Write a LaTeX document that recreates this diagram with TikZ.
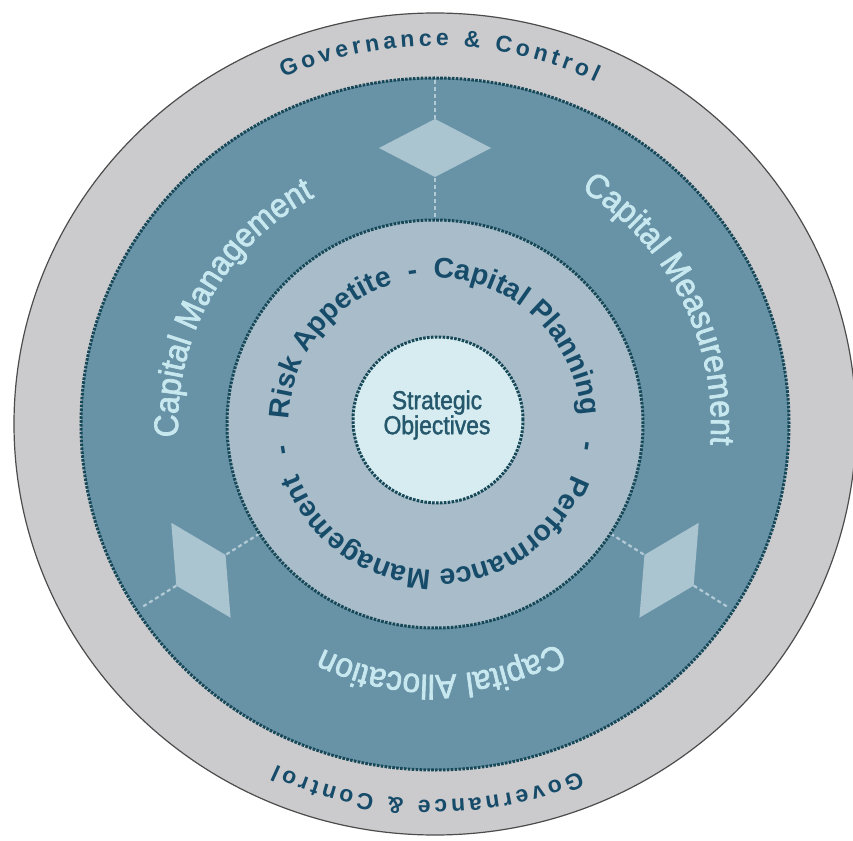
\documentclass[tikz,border=0pt]{standalone}
\usepackage{fontspec}
\setmainfont{Liberation Sans}
\newfontfamily\capfont[FakeStretch=0.93, FakeBold=2]{Liberation Sans}
\newfontfamily\objfont[FakeStretch=0.88, FakeBold=1.5]{Liberation Sans}
\definecolor{outergrey}{RGB}{203,203,206}
\definecolor{ringteal}{RGB}{104,147,167}
\definecolor{innerblue}{RGB}{168,189,201}
\definecolor{corecyan}{RGB}{214,236,240}
\definecolor{dotblue}{RGB}{23,72,88}
\definecolor{textblue}{RGB}{22,75,105}
\definecolor{objblue}{RGB}{37,88,108}
\definecolor{capwhite}{RGB}{200,232,240}
\definecolor{diamondblue}{RGB}{170,196,208}
\definecolor{spokeblue}{RGB}{178,202,213}
\newcommand\govfmt{\color{textblue}\fontsize{23}{26}\selectfont\bfseries}
\newcommand\capfmt{\color{capwhite}\capfont\fontsize{34}{40}\selectfont}
\newcommand\ringfmt{\color{textblue}\fontsize{28.5}{32}\selectfont\bfseries}
% letter widths, measured before the picture
\newdimen\glyphwd
\newcommand\measurearc[3]{% name, format, letters
	\foreach \ch [count=\i] in {#3}{%
		\settowidth\glyphwd{#2\ch}%
		\expandafter\xdef\csname gw-#1-\i\endcsname{\the\glyphwd}%
	}%
}
% letters set one by one round an arc, read clockwise
\newcommand\arctext[6]{% name, format, radius, centre angle, extra spacing, letters
	\gdef\textwd{0}%
	\foreach \ch [count=\i] in {#6}{%
		\pgfmathsetmacro\tmpwd{\textwd+\csname gw-#1-\i\endcsname+#5}%
		\xdef\textwd{\tmpwd}%
	}%
	\pgfmathsetmacro\tmpang{#4+deg((\textwd-#5)/2/#3)}%
	\xdef\curang{\tmpang}%
	\foreach \ch [count=\i] in {#6}{%
		\edef\gwd{\csname gw-#1-\i\endcsname}%
		\pgfmathsetmacro\midang{\curang-deg(\gwd/2/#3)}%
		\node[rotate=\midang-90, anchor=base, inner sep=0pt, outer sep=0pt] (#1-\i) at (\midang:#3) {#2\ch};
		\pgfmathsetmacro\tmpang{\curang-deg((\gwd+#5)/#3)}%
		\xdef\curang{\tmpang}%
	}%
}
\begin{document}
\measurearc{govtop}{\govfmt}{G,o,v,e,r,n,a,n,c,e,~,\&,~,C,o,n,t,r,o,l}
\measurearc{govbot}{\govfmt}{G,o,v,e,r,n,a,n,c,e,~,\&,~,C,o,n,t,r,o,l}
\measurearc{mgmt}{\capfmt}{C,a,p,i,t,a,l,~,M,a,n,a,g,e,m,e,n,t}
\measurearc{meas}{\capfmt}{C,a,p,i,t,a,l,~,M,e,a,s,u,r,e,m,e,n,t}
\measurearc{alloc}{\capfmt}{C,a,p,i,t,a,l,~,A,l,l,o,c,a,t,i,o,n}
\measurearc{risk}{\ringfmt}{R,i,s,k,~,A,p,p,e,t,i,t,e}
\measurearc{dasha}{\ringfmt}{-}
\measurearc{plan}{\ringfmt}{C,a,p,i,t,a,l,~,P,l,a,n,n,i,n,g}
\measurearc{dashb}{\ringfmt}{-}
\measurearc{perf}{\ringfmt}{P,e,r,f,o,r,m,a,n,c,e,~,M,a,n,a,g,e,m,e,n,t}
\measurearc{dashc}{\ringfmt}{-}
\begin{tikzpicture}[x=1pt, y=1pt, line join=round,
    dotted ring/.style={draw=dotblue, line width=3pt, dash pattern=on 2.6pt off 1.3pt},
    spoke/.style={draw=spokeblue, line width=2.2pt, dash pattern=on 4pt off 3pt}]
	\useasboundingbox (-435,-416) rectangle (418,424);
	% rings
	\path[fill=outergrey, draw=black!70, line width=1.2pt] (0,0) ellipse [x radius=421, y radius=411];
	\path[fill=ringteal, dotted ring] (0,0) ellipse [x radius=354, y radius=346];
	\foreach \ang in {90,212,-32}{
		\begin{scope}[rotate=\ang-90]
			\draw[spoke] (0,200) -- (0,345);
			\fill[diamondblue] (0,247) -- (56,276) -- (0,305) -- (-56,276) -- cycle;
		\end{scope}
	}
	\path[fill=innerblue, dotted ring] (0,0) ellipse [x radius=208, y radius=204];
	\path[fill=corecyan, dotted ring] (3,4) ellipse [x radius=85, y radius=83];
	\node[align=center, text=objblue, font=\objfont\fontsize{26}{25}\selectfont] (objectives) at (2,9) {Strategic\\Objectives};
	% outer ring text
	\arctext{govtop}{\govfmt}{378}{89.25}{4.1}{G,o,v,e,r,n,a,n,c,e,~,\&,~,C,o,n,t,r,o,l}
	\arctext{govbot}{\govfmt}{376}{-91.2}{3.6}{G,o,v,e,r,n,a,n,c,e,~,\&,~,C,o,n,t,r,o,l}
	% middle ring text
	\arctext{mgmt}{\capfmt}{257}{150.4}{0}{C,a,p,i,t,a,l,~,M,a,n,a,g,e,m,e,n,t}
	\arctext{meas}{\capfmt}{276}{26.9}{0}{C,a,p,i,t,a,l,~,M,e,a,s,u,r,e,m,e,n,t}
	\arctext{alloc}{\capfmt}{251}{-88.6}{0}{C,a,p,i,t,a,l,~,A,l,l,o,c,a,t,i,o,n}
	% inner ring text
	\arctext{risk}{\ringfmt}{146}{142.4}{0}{R,i,s,k,~,A,p,p,e,t,i,t,e}
	\arctext{dasha}{\ringfmt}{146}{98.4}{0}{-}
	\arctext{plan}{\ringfmt}{146}{46.95}{0}{C,a,p,i,t,a,l,~,P,l,a,n,n,i,n,g}
	\arctext{dashb}{\ringfmt}{146}{-8.5}{0}{-}
	\arctext{perf}{\ringfmt}{146}{-90}{0}{P,e,r,f,o,r,m,a,n,c,e,~,M,a,n,a,g,e,m,e,n,t}
	\arctext{dashc}{\ringfmt}{146}{189.6}{0}{-}
\end{tikzpicture}
\end{document}
